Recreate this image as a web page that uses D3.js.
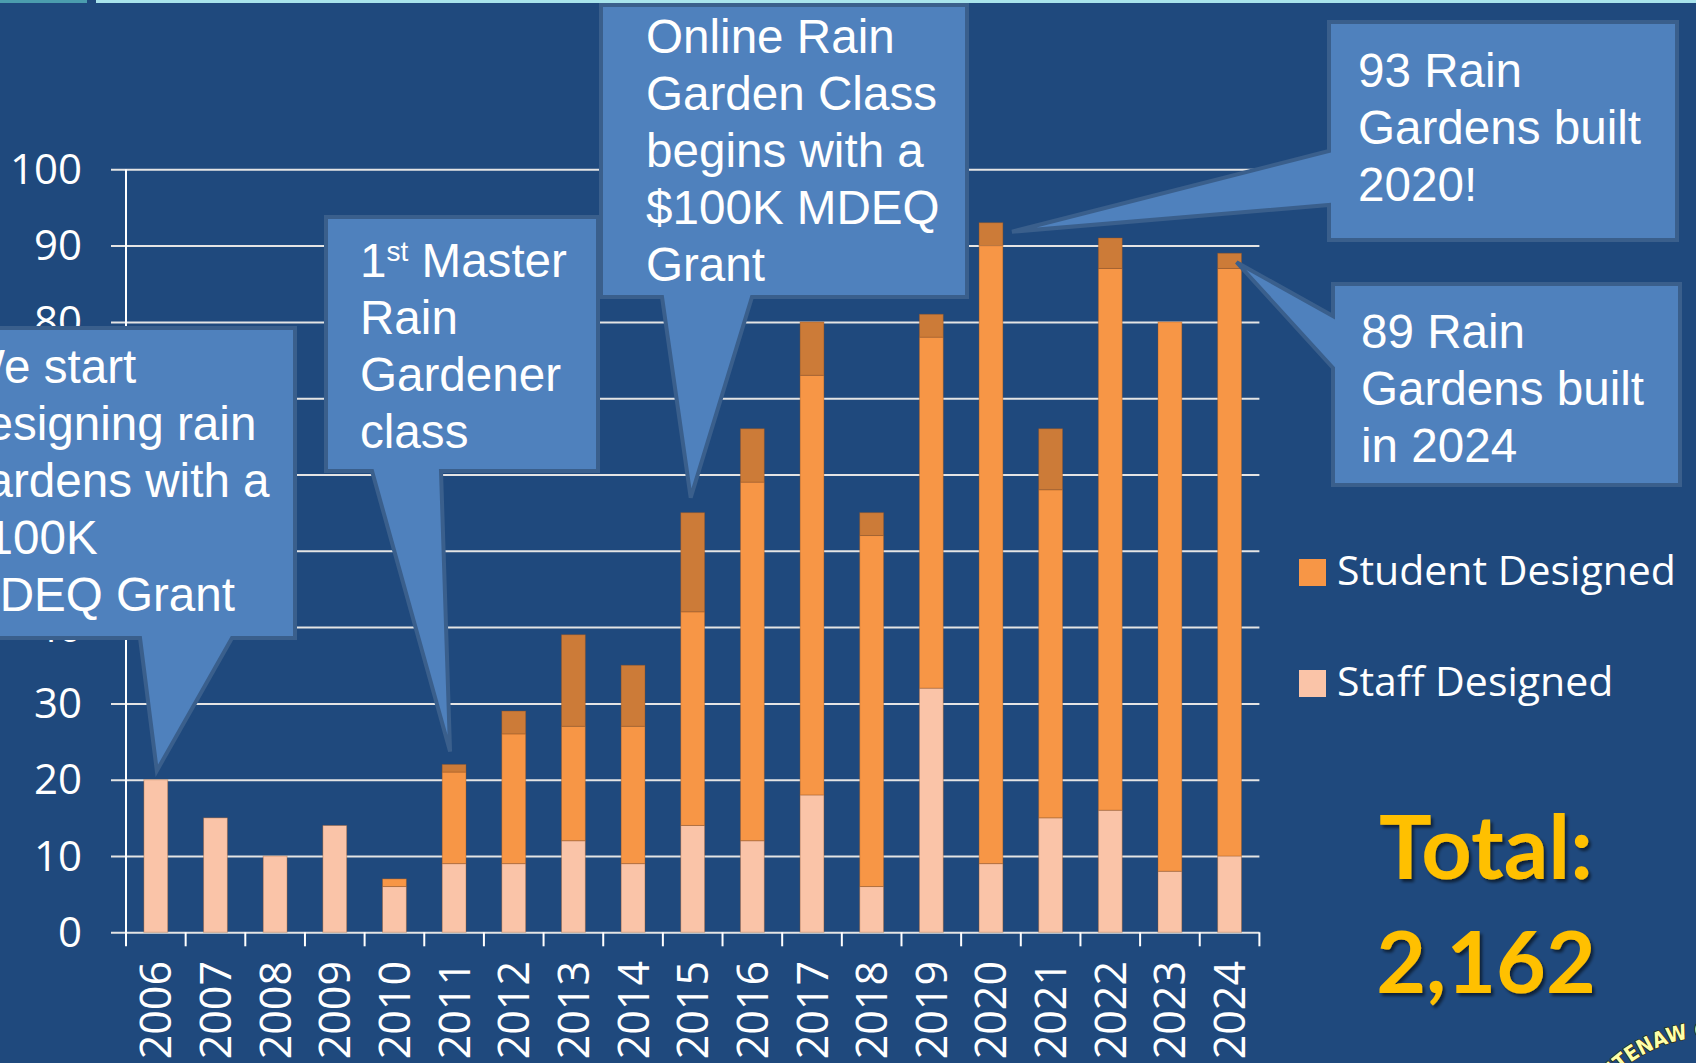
<!DOCTYPE html>
<html>
<head>
<meta charset="utf-8">
<script src="https://cdn.jsdelivr.net/npm/d3@7"></script>
<style>
  html, body { margin: 0; padding: 0; background: #1F497D; overflow: hidden; }
  svg { display: block; }
</style>
</head>
<body>
<svg id="chart" width="1696" height="1063"></svg>
<script>
// ---- data ----
const years = ["2006","2007","2008","2009","2010","2011","2012","2013","2014","2015","2016","2017","2018","2019","2020","2021","2022","2023","2024"];
const staffDesigned   = [20,15,10,14, 6, 9, 9,12, 9,14,12,18, 6,32, 9,15,16, 8,10];
const studentDesigned = [ 0, 0, 0, 0, 1,12,17,15,18,28,47,55,46,46,81,43,71,72,77];
const otherDesigned   = [ 0, 0, 0, 0, 0, 1, 3,12, 8,13, 7, 7, 3, 3, 3, 8, 4, 0, 2];
const yTicks = [0,10,20,30,40,50,60,70,80,90,100];
const seriesNames = ["Staff Designed","Student Designed","Other"];
const legendItems = ["Student Designed","Staff Designed"];
const totalLabel = ["Total:", "2,162"];

// ---- styles ----
const colors = {"Staff Designed":"#FAC4A8","Student Designed":"#F79646","Other":"#CC7B38"};
const bg = "#1F497D";
const calloutFill = "#4F81BD", calloutStroke = "#3A5F8C";

const svg = d3.select("#chart");
svg.append("rect").attr("width",1696).attr("height",1063).attr("fill",bg);
// top strip
svg.append("rect").attr("x",0).attr("y",0).attr("width",87).attr("height",3).attr("fill","#4B9DAE");
svg.append("rect").attr("x",96).attr("y",0).attr("width",1600).attr("height",3).attr("fill","#A8E4EC");

const defs = svg.append("defs");
defs.append("filter").attr("id","sh").attr("x","-10%").attr("y","-10%").attr("width","130%").attr("height","140%")
  .append("feDropShadow").attr("dx",2.5).attr("dy",3).attr("stdDeviation",1.5)
  .attr("flood-color","#000").attr("flood-opacity",0.55);

const x0 = 126, x1 = 1259.4;
const x = d3.scaleBand().domain(years).range([x0, x1]).paddingInner(0.6).paddingOuter(0.3);
const y = d3.scaleLinear().domain([0,100]).range([932.3, 169.3]);

// gridlines
const grid = svg.append("g").attr("transform",`translate(${x1},0)`)
  .call(d3.axisLeft(y).tickValues(yTicks).tickSize(x1-111).tickFormat(""));
grid.select(".domain").remove();
grid.selectAll(".tick line").attr("stroke","#E4E4E4").attr("stroke-width",2);

// y labels
const yl = svg.append("g").attr("transform","translate(111,0)")
  .call(d3.axisLeft(y).tickValues(yTicks).tickSize(0).tickPadding(29));
yl.select(".domain").remove();
yl.selectAll(".tick text")
  .attr("fill","#fff").attr("font-family","'Open Sans', sans-serif").attr("font-size",42)
  .attr("dy",null).attr("y",14);

// y axis line
svg.append("line").attr("x1",x0).attr("x2",x0).attr("y1",y(100)).attr("y2",y(0))
  .attr("stroke","#fff").attr("stroke-width",2);

// x tick marks at band boundaries
const half = (x.step() - x.bandwidth())/2;
const bounds = years.map(d => x(d) - half).concat([x1]);
svg.append("g").selectAll("line").data(bounds).join("line")
  .attr("x1",d=>d).attr("x2",d=>d).attr("y1",y(0)).attr("y2",y(0)+14)
  .attr("stroke","#fff").attr("stroke-width",2);

// stacked bars
const table = years.map((yr,i)=>({year:yr,"Staff Designed":staffDesigned[i],"Student Designed":studentDesigned[i],"Other":otherDesigned[i]}));
const stack = d3.stack().keys(seriesNames)(table);
svg.append("g").selectAll("g").data(stack).join("g")
  .attr("fill",s=>colors[s.key])
  .selectAll("rect").data(s=>s.filter(d=>d[1]-d[0]>0)).join("rect")
  .attr("x",d=>x(d.data.year)).attr("width",x.bandwidth())
  .attr("y",d=>y(d[1])).attr("height",d=>y(d[0])-y(d[1]))
  .attr("stroke","rgba(150,80,30,0.35)").attr("stroke-width",1);

// year labels
svg.append("g").selectAll("text").data(years).join("text")
  .attr("transform",d=>`translate(${x(d)+x.bandwidth()/2+15.5},961) rotate(-90)`)
  .attr("text-anchor","end").attr("fill","#fff")
  .attr("font-family","'Open Sans', sans-serif").attr("font-size",43)
  .text(d=>d);

// legend
const lg = svg.append("g");
legendItems.forEach((name,i)=>{
  const ly = 559 + i*111;
  lg.append("rect").attr("x",1299).attr("y",ly).attr("width",27).attr("height",27).attr("fill",colors[name]);
  lg.append("text").attr("x",1337).attr("y",ly+26).attr("fill","#fff")
    .attr("font-family","'Open Sans', sans-serif").attr("font-size",41).text(name);
});

// total
const tg = svg.append("g").attr("filter","url(#sh)");
totalLabel.forEach((t,i)=>{
  tg.append("text").attr("x",1486).attr("y",879+i*114).attr("text-anchor","middle")
    .attr("fill","#FFC000").attr("font-family","Lato, sans-serif").attr("font-weight",700)
    .attr("font-size",i===0?88:86).text(t);
});

// ---- callouts ----
function idx(yr){ return years.indexOf(yr); }
function topOf(yr){ const i=idx(yr); return staffDesigned[i]+studentDesigned[i]+otherDesigned[i]; }
function cx(yr){ return x(yr)+x.bandwidth()/2; }

const callouts = [
  {box:[-20,328,295,638], side:"bottom", base:[140,232], tip:[cx("2006")+1, y(topOf("2006"))-9], tx:-40, ty:383,
   lines:["We start","designing rain","gardens with a","$100K","MDEQ Grant"]},
  {box:[326,217,598,471], side:"bottom", base:[372,441], tip:[cx("2011")-4, y(topOf("2011"))-13], tx:360, ty:277,
   lines:["1|st| Master","Rain","Gardener","class"]},
  {box:[601,5,967,297], side:"bottom", base:[662,752], tip:[cx("2015")-2, y(topOf("2015"))-15], tx:646, ty:53,
   lines:["Online Rain","Garden Class","begins with a","$100K MDEQ","Grant"]},
  {box:[1329,22,1677,240], side:"left", base:[151,205], tip:[cx("2020")+21, y(topOf("2020"))+9], tx:1358, ty:87,
   lines:["93 Rain","Gardens built","2020!"]},
  {box:[1333,284,1680,485], side:"left", base:[316,368], tip:[cx("2024")+7, y(topOf("2024"))+9], tx:1361, ty:348,
   lines:["89 Rain","Gardens built","in 2024"]}
];

const cg = svg.append("g");
callouts.forEach(c=>{
  const [bx0,by0,bx1,by1] = c.box;
  let p;
  if (c.side==="bottom") {
    p = [[bx0,by0],[bx1,by0],[bx1,by1],[c.base[1],by1],c.tip,[c.base[0],by1],[bx0,by1]];
  } else {
    p = [[bx0,by0],[bx1,by0],[bx1,by1],[bx0,by1],[bx0,c.base[1]],c.tip,[bx0,c.base[0]]];
  }
  cg.append("path").attr("d","M"+p.map(q=>q.join(",")).join("L")+"Z")
    .attr("fill",calloutFill).attr("stroke",calloutStroke).attr("stroke-width",4)
    .attr("stroke-linejoin","miter");
  const t = cg.append("text").attr("fill","#fff").attr("font-family","'Liberation Sans', Arial, sans-serif")
    .attr("font-size",47.6);
  c.lines.forEach((ln,i)=>{
    const ly = c.ty + i*57;
    if (ln.includes("|")) {
      const parts = ln.split("|");
      t.append("tspan").attr("x",c.tx).attr("y",ly).text(parts[0]);
      t.append("tspan").attr("dy",-16).attr("font-size",28).text(parts[1]);
      t.append("tspan").attr("y",ly).text(parts[2]);
    } else {
      t.append("tspan").attr("x",c.tx).attr("y",ly).text(ln);
    }
  });
});

// partial logo text bottom-right
const lcx = 1710, lcy = 1172, lr = 135;
defs.append("path").attr("id","logoArc").attr("d",`M${lcx-lr},${lcy} A${lr},${lr} 0 0 1 ${lcx+lr},${lcy}`);
svg.append("text").attr("font-family","'DejaVu Sans Condensed','DejaVu Sans',sans-serif")
  .attr("font-weight",700).attr("font-size",21).attr("fill","#FFFFA8")
  .attr("stroke","#2a2a10").attr("stroke-width",1.5).attr("paint-order","stroke")
  .append("textPath").attr("href","#logoArc").attr("startOffset",50).text("WASHTENAW COUNTY");
</script>
</body>
</html>
